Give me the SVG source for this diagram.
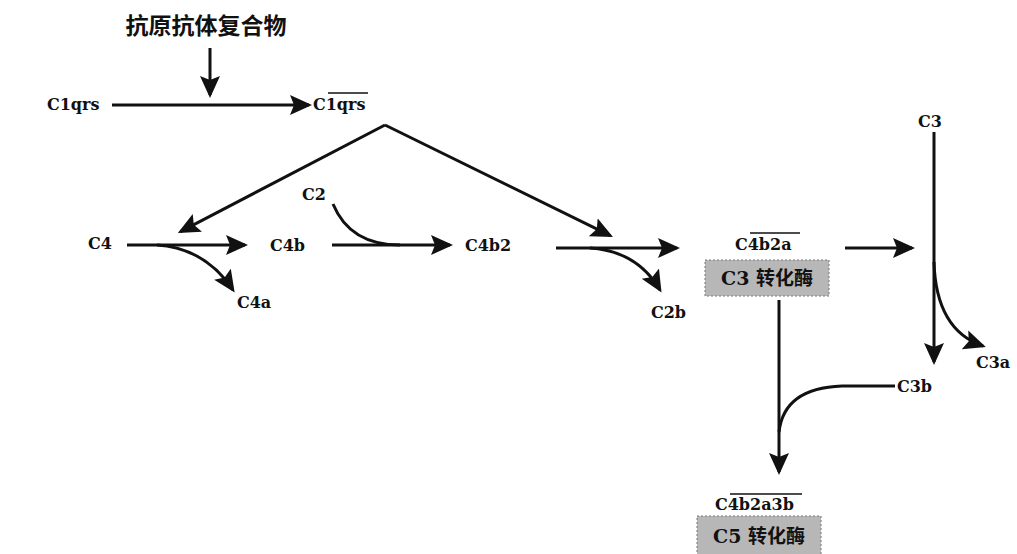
<svg xmlns="http://www.w3.org/2000/svg" width="1017" height="554" viewBox="0 0 1017 554">
<style>
.t{font-family:"DejaVu Serif","Liberation Serif","Noto Sans CJK SC",serif;font-weight:bold;font-size:16px;fill:#111}
.cjk{font-family:"Noto Sans CJK SC",sans-serif;font-weight:bold;font-size:23px;fill:#111}
.bt{font-family:"DejaVu Serif","Noto Sans CJK SC",serif;font-weight:bold;font-size:19px;fill:#111}
.ln{fill:none;stroke:#111;stroke-width:3}
.ol{stroke:#111;stroke-width:1.6}
.box{fill:#b7b7b7;stroke:#777;stroke-width:1;stroke-dasharray:2 2}
</style>
<defs>
<marker id="ah" markerUnits="userSpaceOnUse" markerWidth="24" markerHeight="22" refX="19" refY="10" orient="auto" viewBox="0 0 24 22">
<path d="M0,0 L22,10 L0,20 L4,10 Z" fill="#111"/>
</marker>
</defs>
<rect width="1017" height="554" fill="#fff"/>
<g id="n-complex"><text class="cjk" x="206" y="34" text-anchor="middle">抗原抗体复合物</text></g>
<g id="n-c1qrs"><text class="t" x="47" y="110">C1qrs</text></g>
<g id="n-c1qrs-act"><text class="t" x="313" y="110">C1qrs</text><line class="ol" x1="328" y1="93" x2="368" y2="93"/></g>
<g id="n-c4"><text class="t" x="88" y="249">C4</text></g>
<g id="n-c4b"><text class="t" x="270" y="251">C4b</text></g>
<g id="n-c4a"><text class="t" x="237" y="308">C4a</text></g>
<g id="n-c2"><text class="t" x="302" y="200">C2</text></g>
<g id="n-c4b2"><text class="t" x="465" y="251">C4b2</text></g>
<g id="n-c2b"><text class="t" x="651" y="318">C2b</text></g>
<g id="n-c3conv"><text class="t" x="735" y="250">C4b2a</text><line class="ol" x1="750" y1="233" x2="800" y2="233"/>
<rect class="box" x="705" y="260" width="124" height="36"/>
<text class="bt" x="767" y="285" text-anchor="middle">C3 转化酶</text></g>
<g id="n-c3"><text class="t" x="918" y="127">C3</text></g>
<g id="n-c3a"><text class="t" x="976" y="368">C3a</text></g>
<g id="n-c3b"><text class="t" x="897" y="392">C3b</text></g>
<g id="n-c5conv"><text class="t" x="715" y="510">C4b2a3b</text><line class="ol" x1="730" y1="494" x2="802" y2="494"/>
<rect class="box" x="697" y="516" width="124" height="40"/>
<text class="bt" x="759" y="543" text-anchor="middle">C5 转化酶</text></g>
<g id="connectors">
<path class="ln" d="M210,48 L210,95" marker-end="url(#ah)"/>
<path class="ln" d="M112,105 L309,105" marker-end="url(#ah)"/>
<path class="ln" d="M385,125 L180.5,231.6" marker-end="url(#ah)"/>
<path class="ln" d="M385,125 L610.3,235.7" marker-end="url(#ah)"/>
<path class="ln" d="M127,245 L245,245" marker-end="url(#ah)"/>
<path class="ln" d="M157,245 Q205,248 233,290" marker-end="url(#ah)"/>
<path class="ln" d="M332,245 L450,245" marker-end="url(#ah)"/>
<path class="ln" d="M333,204 Q350,245 400,245"/>
<path class="ln" d="M556,248 L677,248" marker-end="url(#ah)"/>
<path class="ln" d="M590,248 Q637,251 660,290" marker-end="url(#ah)"/>
<path class="ln" d="M845,248 L912,248" marker-end="url(#ah)"/>
<path class="ln" d="M934,132 L934,362" marker-end="url(#ah)"/>
<path class="ln" d="M934,262 Q936,330 983,346" marker-end="url(#ah)"/>
<path class="ln" d="M779,300 L779,472" marker-end="url(#ah)"/>
<path class="ln" d="M895,386 L842,386 Q784,388 779,432"/>
</g>
</svg>
